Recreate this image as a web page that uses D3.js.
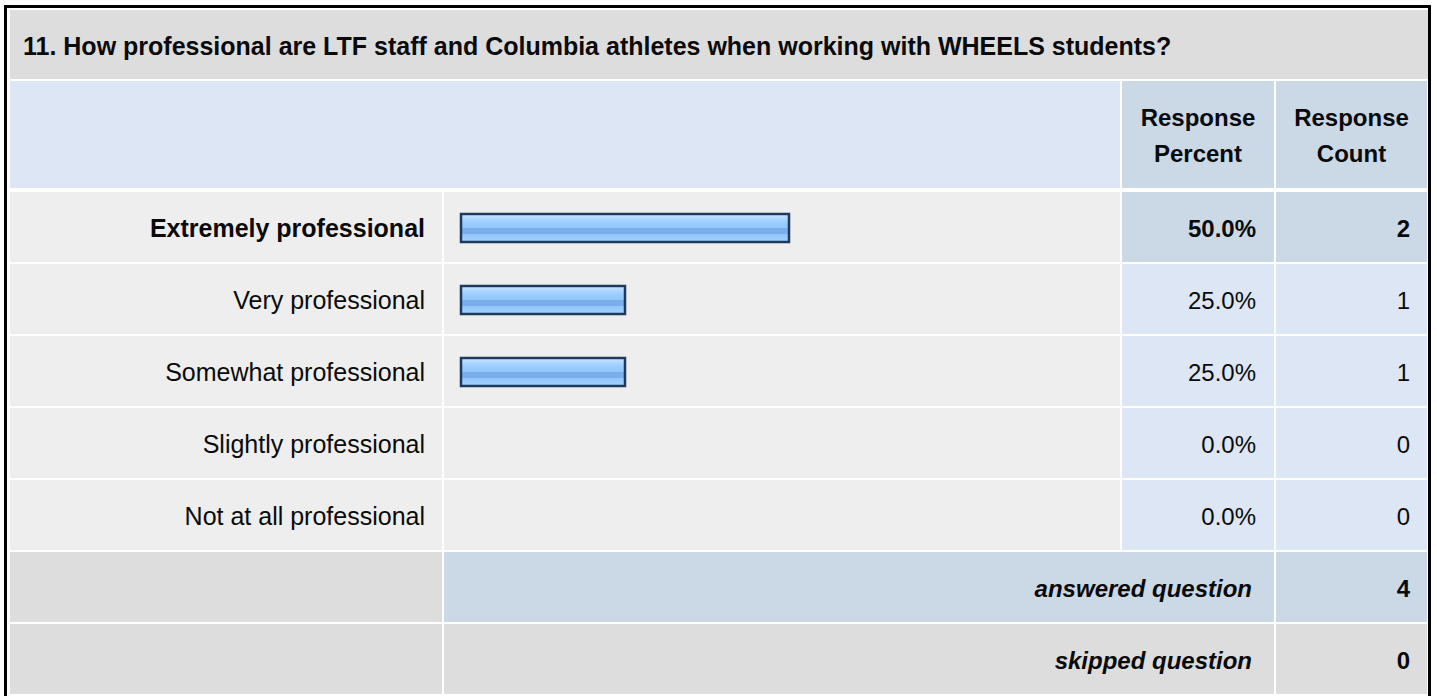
<!DOCTYPE html>
<html>
<head>
<meta charset="utf-8">
<script src="https://cdn.jsdelivr.net/npm/d3@7"></script>
<style>
  body { margin: 0; background: #fff; }
  svg { display: block; font-family: "Liberation Sans", Arial, sans-serif; }
</style>
</head>
<body>
<svg id="chart" width="1437" height="696"></svg>
<script>
// survey data
var title = "11. How professional are LTF staff and Columbia athletes when working with WHEELS students?";
var categories = ["Extremely professional", "Very professional", "Somewhat professional", "Slightly professional", "Not at all professional"];
var percents = [50.0, 25.0, 25.0, 0.0, 0.0];
var counts = [2, 1, 1, 0, 0];
var headers = [["Response", "Percent"], ["Response", "Count"]];
var footerLabels = ["answered question", "skipped question"];
var footerValues = [4, 0];

var svg = d3.select("#chart");

//column edges of the table
var xLabel = 10, xBar = 444, xPct = 1122, xCnt = 1276, xEnd = 1428;
var rowTop = 192, rowH = 70, gap = 2, base = 45;

// outer frame
svg.append("rect").attr("x", 5.5).attr("y", 6.5).attr("width", 1424).attr("height", 700)
    .attr("fill", "none").attr("stroke", "#000").attr("stroke-width", 3);

// title cell
svg.append("rect").attr("x", xLabel).attr("y", 10).attr("width", xEnd - xLabel).attr("height", 69).attr("fill", "#dddddd");
svg.append("text").attr("x", 23).attr("y", 55).attr("font-size", 25).attr("font-weight", "bold")
    .attr("fill", "#0a0a0a").text(title);

// header row
svg.append("rect").attr("x", xLabel).attr("y", 81).attr("width", xPct - 2 - xLabel).attr("height", 107).attr("fill", "#dce6f4");
[[xPct, xCnt - 2], [xCnt, xEnd - 1]].forEach(function(c, i) {
    svg.append("rect").attr("x", c[0]).attr("y", 81).attr("width", c[1] - c[0]).attr("height", 107).attr("fill", "#cbd8e6");
    var t = svg.append("text").attr("text-anchor", "middle").attr("font-size", 24).attr("font-weight", "bold").attr("fill", "#0a0a0a");
    headers[i].forEach(function(s, k) {
        t.append("tspan").attr("x", (c[0] + c[1]) / 2).attr("y", 126 + k * 36).text(s);
    });
});

// gradient for bars
var grad = svg.append("defs").append("linearGradient").attr("id", "barGrad")
    .attr("x1", 0).attr("x2", 0).attr("y1", 0).attr("y2", 1);
[[0, "#d2e9ff"], [0.12, "#b6daff"], [0.3, "#9ccdff"], [0.5, "#92c5fb"], [0.5, "#7aafee"], [0.72, "#7aafee"], [0.72, "#94c6fa"], [1, "#a3d2ff"]]
    .forEach(function(s) { grad.append("stop").attr("offset", s[0]).attr("stop-color", s[1]); });

var x = d3.scaleLinear().domain([0, 100]).range([461, 1117]);
var y = d3.scaleBand().domain(categories).range([rowTop, rowTop + categories.length * (rowH + gap)]).paddingInner(0);

var rows = svg.selectAll("g.row").data(categories).join("g").attr("class", "row")
    .attr("transform", function(d) { return "translate(0," + y(d) + ")"; });

rows.append("rect").attr("x", xLabel).attr("width", xBar - 2 - xLabel).attr("height", rowH).attr("fill", "#eeeeee");
rows.append("rect").attr("x", xBar).attr("width", xPct - 2 - xBar).attr("height", rowH).attr("fill", "#eeeeee");
rows.append("rect").attr("x", xPct).attr("width", xCnt - 2 - xPct).attr("height", rowH)
    .attr("fill", function(d, i) { return i === 0 ? "#cbd8e6" : "#dce6f4"; });
rows.append("rect").attr("x", xCnt).attr("width", xEnd - 1 - xCnt).attr("height", rowH)
    .attr("fill", function(d, i) { return i === 0 ? "#cbd8e6" : "#dce6f4"; });

//the top answer gets bold text
function weight(d, i) { return i === 0 ? "bold" : "normal"; }

rows.append("text").attr("x", 425).attr("y", base).attr("text-anchor", "end").attr("font-size", 25)
    .attr("font-weight", weight).attr("fill", "#0a0a0a").text(function(d) { return d; });

rows.filter(function(d, i) { return percents[i] > 0; }).append("rect")
    .attr("x", x(0)).attr("y", 22)
    .attr("width", function(d) { return x(percents[categories.indexOf(d)]) - x(0); })
    .attr("height", 28)
    .attr("fill", "url(#barGrad)").attr("stroke", "#1e3a5f").attr("stroke-width", 2.5);

rows.append("text").attr("x", 1256).attr("y", base).attr("text-anchor", "end").attr("font-size", 24)
    .attr("font-weight", weight).attr("fill", "#0a0a0a")
    .text(function(d, i) { return percents[i].toFixed(1) + "%"; });
rows.append("text").attr("x", 1410).attr("y", base).attr("text-anchor", "end").attr("font-size", 24)
    .attr("font-weight", weight).attr("fill", "#0a0a0a")
    .text(function(d, i) { return counts[i]; });

// answered / skipped rows
var fTop = rowTop + categories.length * (rowH + gap);
footerLabels.forEach(function(lab, i) {
    var top = fTop + i * (rowH + gap);
    var mid = i === 0 ? "#cbd8e6" : "#dddddd";
    svg.append("rect").attr("x", xLabel).attr("y", top).attr("width", xBar - 2 - xLabel).attr("height", rowH).attr("fill", "#dddddd");
    svg.append("rect").attr("x", xBar).attr("y", top).attr("width", xCnt - 2 - xBar).attr("height", rowH).attr("fill", mid);
    svg.append("rect").attr("x", xCnt).attr("y", top).attr("width", xEnd - 1 - xCnt).attr("height", rowH).attr("fill", mid);
    svg.append("text").attr("x", 1252).attr("y", top + base).attr("text-anchor", "end").attr("font-size", 24)
        .attr("font-weight", "bold").attr("font-style", "italic").attr("fill", "#0a0a0a").text(lab);
    svg.append("text").attr("x", 1410).attr("y", top + base).attr("text-anchor", "end").attr("font-size", 24)
        .attr("font-weight", "bold").attr("fill", "#0a0a0a").text(footerValues[i]);
});
</script>
</body>
</html>
